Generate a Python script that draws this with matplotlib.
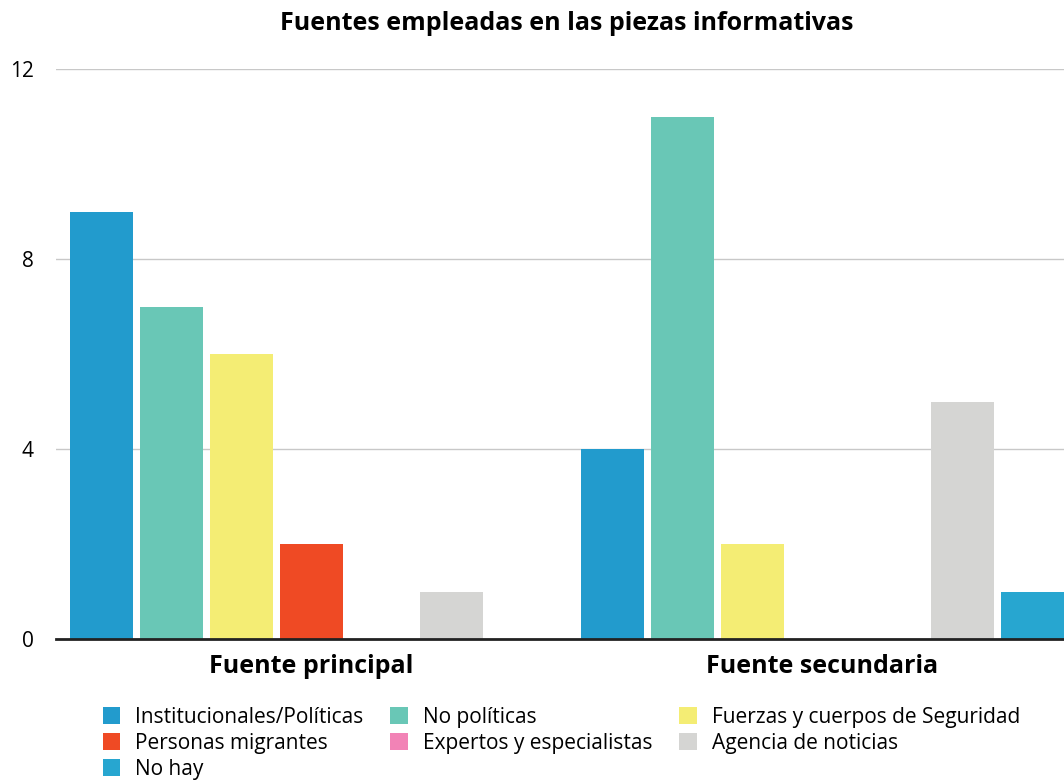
import matplotlib.pyplot as plt
import numpy as np
from matplotlib.patches import Patch

plt.rcParams["font.family"] = ["Open Sans", "DejaVu Sans"]

groups = ["Fuente principal", "Fuente secundaria"]
series = [
    "Institucionales/Políticas",
    "No políticas",
    "Fuerzas y cuerpos de Seguridad",
    "Personas migrantes",
    "Expertos y especialistas",
    "Agencia de noticias",
    "No hay",
]
colors = ["#229bcd", "#69c7b6", "#f4ed74", "#ef4a24", "#f283b6", "#d5d5d3", "#27a6d0"]
values_principal = [9, 7, 6, 2, 0, 1, 0]
values_secundaria = [4, 11, 2, 0, 0, 5, 1]
y_ticks = [0, 4, 8, 12]

group_step = 7.3
bar_width = 0.9

figure = plt.figure(figsize=(10.64, 7.8), dpi=100)
axis = figure.add_axes([56 / 1064, 141 / 780, 1008 / 1064, 570 / 780])

data = np.array([values_principal, values_secundaria])
for i, name in enumerate(series):
    positions = np.arange(len(groups)) * group_step + i
    axis.bar(positions, data[:, i], width=bar_width, color=colors[i], zorder=2)

axis.set_xlim(-0.65, 13.75)
axis.set_ylim(0, 12)
axis.set_yticks(y_ticks)
axis.set_yticklabels([str(t) for t in y_ticks], fontsize=15)
axis.tick_params(axis="y", length=0, pad=16)
axis.tick_params(axis="x", length=0, pad=11)
axis.set_xticks(np.arange(len(groups)) * group_step + 3)
axis.set_xticklabels(groups, fontsize=18, fontweight="bold")

axis.grid(axis="y", color="#c8c8c8", linewidth=1, zorder=0)
for side in ["top", "right", "left"]:
    axis.spines[side].set_visible(False)
axis.spines["bottom"].set_color("#222222")
axis.spines["bottom"].set_linewidth(2)
axis.spines["bottom"].set_zorder(3)

axis.set_title(
    "Fuentes empleadas en las piezas informativas",
    fontsize=18,
    fontweight="bold",
    pad=28,
    x=(567 - 56) / 1008,
)

order = [0, 3, 6, 1, 4, 2, 5]
handles = [Patch(facecolor=colors[k], edgecolor="none") for k in order]
labels = [series[k] for k in order]
figure.legend(
    handles,
    labels,
    loc="upper left",
    bbox_to_anchor=(84 / 1064, 1 - 688 / 780),
    ncol=3,
    frameon=False,
    fontsize=15,
    handlelength=0.85,
    handleheight=0.85,
    handletextpad=0.7,
    columnspacing=1.3,
    labelspacing=0.24,
)

figure.savefig("out.png", dpi=100)
